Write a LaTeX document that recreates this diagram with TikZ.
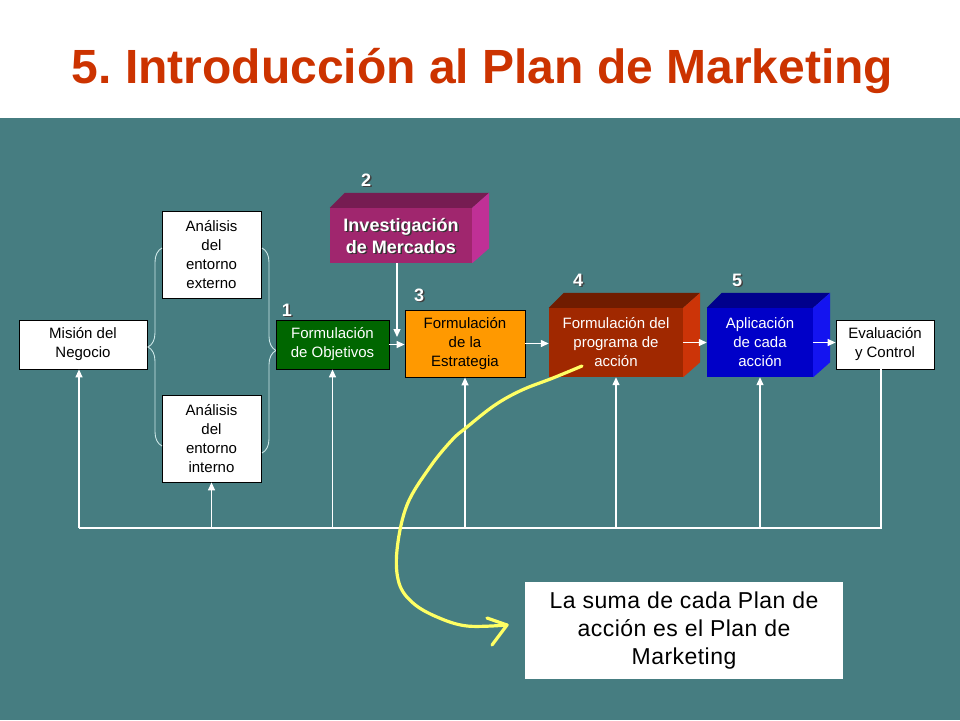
\documentclass[tikz,border=0pt]{standalone}
\usepackage{fontspec}
\setmainfont{Liberation Sans}
\usetikzlibrary{arrows.meta,decorations.pathreplacing,calc}
\definecolor{bgteal}{RGB}{70,125,129}
\definecolor{titlered}{RGB}{204,51,0}
\definecolor{objgreen}{RGB}{0,102,0}
\definecolor{estorange}{RGB}{255,153,0}
\definecolor{invfront}{RGB}{160,38,110}
\definecolor{invtop}{RGB}{118,28,82}
\definecolor{invside}{RGB}{192,48,150}
\definecolor{progfront}{RGB}{160,40,0}
\definecolor{progtop}{RGB}{112,28,0}
\definecolor{progside}{RGB}{204,52,8}
\definecolor{aplfront}{RGB}{0,0,200}
\definecolor{apltop}{RGB}{0,0,140}
\definecolor{aplside}{RGB}{20,20,240}
\definecolor{bracecol}{RGB}{205,232,232}
\definecolor{penyellow}{RGB}{255,255,100}
\newcommand\myboxfaces[3]{%
  \fill[#2] (#1.north west) -- ++(15,-15) -- ($(#1.north east)+(17,-15)$) -- (#1.north east) -- cycle;
  \fill[#3] (#1.north east) -- ++(17,-15) -- ($(#1.south east)+(17,-15)$) -- (#1.south east) -- cycle;
}
\frenchspacing
\begin{document}
\begin{tikzpicture}[x=1pt,y=-1pt,
  wbox/.style={draw=black, fill=white, line width=0.8pt, align=center, inner sep=0pt,
    font=\fontsize{15}{19}\selectfont},
  colbox/.style={inner sep=0pt, align=center, font=\fontsize{15}{19}\selectfont},
  flowarrow/.style={draw=white, line width=1.3pt, -{Triangle[length=8pt,width=7pt]}},
  flowline/.style={draw=white, line width=1.3pt},
  bracestyle/.style={draw=bracecol, line width=0.9pt, decorate},
  numlabel/.style={text=white, font=\bfseries\fontsize{18}{18}\selectfont, inner sep=0pt},
  numshadow/.style={text=black!75, font=\bfseries\fontsize{18}{18}\selectfont, inner sep=0pt},
  pen/.style={draw=penyellow, line width=3.2pt, line cap=round, line join=round}
]
\fill[bgteal] (0,0) rectangle (960,720);
\fill[white] (0,0) rectangle (960,118);
\useasboundingbox (0,0) rectangle (960,720);

% title
\node[anchor=base, text=titlered, font=\bfseries\fontsize{48}{50}\selectfont, inner sep=0pt]
  (title) at (482.5,83) {5. Introducción al Plan de Marketing};

% white boxes
\node[wbox, minimum width=128, minimum height=49] (mision) at (83,344.5) {Misión del\\Negocio};
\node[wbox, minimum width=99, minimum height=87] (ext) at (211.5,254.5) {Análisis\\del\\entorno\\externo};
\node[wbox, minimum width=99, minimum height=87] (int) at (211.5,438.5) {Análisis\\del\\entorno\\interno};
\node[wbox, minimum width=98, minimum height=49] (eval) at (885,344.5) {Evaluación\\y Control};

% braces
\draw[bracestyle, decoration={brace, amplitude=14pt, aspect=0.5}] (162,446) -- (162,248);
\draw[bracestyle, decoration={brace, amplitude=14pt, aspect=0.5}] (262,248) -- (262,453);

% objetivos
\node[colbox, draw=black, line width=0.8pt, fill=objgreen, text=white, minimum width=113, minimum height=49] (obj) at (332.5,344.5) {Formulación\\de Objetivos};

% estrategia
\node[wbox, fill=estorange, minimum width=120, minimum height=67] (est) at (465,343.5) {Formulación\\de la\\Estrategia};

% investigacion (3D)
\node[colbox, fill=invfront, minimum width=142, minimum height=55] (inv) at (401,235.5) {};
\myboxfaces{inv}{invtop}{invside}
\node[colbox, text=black!80, font=\bfseries\fontsize{18}{22}\selectfont] (invshadow) at ($(inv)+(1.5,1.5)$) {Investigación\\de Mercados};
\node[colbox, text=white, font=\bfseries\fontsize{18}{22}\selectfont] (invtext) at (inv) {Investigación\\de Mercados};

% programa (3D)
\node[colbox, fill=progfront, text=white, minimum width=134, minimum height=69] (prog) at (616,342.5) {Formulación del\\programa de\\acción};
\myboxfaces{prog}{progtop}{progside}

% aplicacion (3D)
\node[colbox, fill=aplfront, text=white, minimum width=106, minimum height=69] (apl) at (760,342.5) {Aplicación\\de cada\\acción};
\myboxfaces{apl}{apltop}{aplside}

% number labels
\node[numshadow] (n1s) at (288.5,311.5) {1};
\node[numlabel] (n1) at (287,310) {1};
\node[numshadow] (n2s) at (367.5,181.5) {2};
\node[numlabel] (n2) at (366,180) {2};
\node[numshadow] (n3s) at (420.5,296.5) {3};
\node[numlabel] (n3) at (419,295) {3};
\node[numshadow] (n4s) at (579.5,281.5) {4};
\node[numlabel] (n4) at (578,280) {4};
\node[numshadow] (n5s) at (738.5,281.5) {5};
\node[numlabel] (n5) at (737,280) {5};

% flow arrows
\coordinate (invend) at (397,337);
\draw[flowarrow] (inv.south -| invend) -- (invend);
\draw[flowarrow] (obj.east) -- (obj.east -| est.west);
\draw[flowarrow] (est.east) -- (est.east -| prog.west);
\draw[flowarrow] (prog.east) -- (prog.east -| apl.west);
\draw[flowarrow] (apl.east) -- (apl.east -| eval.west);

% feedback
\coordinate (fbl) at (79,528);
\coordinate (evdown) at ($(eval.south)+(-4,0)$);
\draw[flowline] (evdown) -- (evdown |- fbl) -- (fbl);
\draw[flowarrow] (fbl) -- (fbl |- mision.south);
\draw[flowarrow] (int.south |- fbl) -- (int.south);
\draw[flowarrow] (obj.south |- fbl) -- (obj.south);
\draw[flowarrow] (est.south |- fbl) -- (est.south);
\draw[flowarrow] (prog.south |- fbl) -- (prog.south);
\draw[flowarrow] (apl.south |- fbl) -- (apl.south);

% note box
\node[wbox, draw=none, minimum width=318, minimum height=97, font=\fontsize{23}{28}\selectfont\addfontfeature{LetterSpace=2}] (suma) at (684,630.5) {La suma de cada Plan de\\acción es el Plan de\\Marketing};

% yellow pen stroke
\draw[pen] plot[smooth, tension=0.6] coordinates {(582,366) (553,378) (522,390) (495,405) (467,427) (452,440) (430,467) (407,505) (397,550) (399,583) (413,603) (437,617) (467,626) (507,625)};
\draw[pen] (487,618) -- (507,625) -- (492,645);
\end{tikzpicture}
\end{document}
